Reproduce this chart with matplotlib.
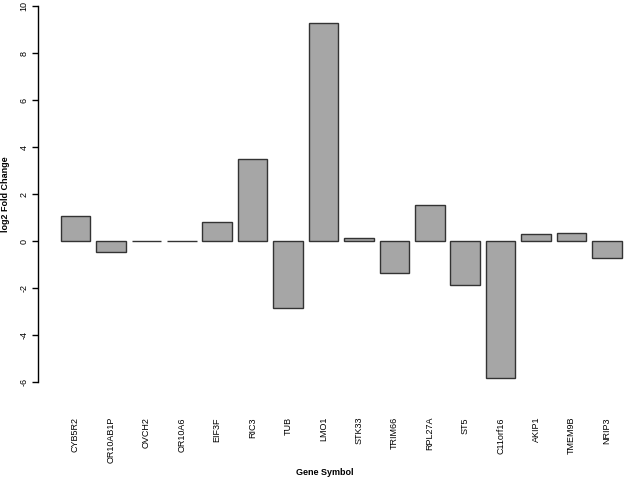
import matplotlib
matplotlib.use("Agg")
import matplotlib.pyplot as plt
import numpy as np

genes = ["CYB5R2", "OR10AB1P", "OVCH2", "OR10A6", "EIF3F", "RIC3", "TUB", "LMO1",
         "STK33", "TRIM66", "RPL27A", "ST5", "C11orf16", "AKIP1", "TMEM9B", "NRIP3"]
log2fc = [1.08, -0.45, 0.02, 0.02, 0.82, 3.51, -2.85, 9.26,
          0.13, -1.35, 1.52, -1.89, -5.81, 0.29, 0.36, -0.71]
yticks = [-6, -4, -2, 0, 2, 4, 6, 8, 10]

plt.rcParams['font.family'] = ['Liberation Sans', 'DejaVu Sans']

W, H = 624, 479
fig = plt.figure(figsize=(W / 100, H / 100), dpi=100)

# pixel geometry
x_per = 29.53
y_per = 23.5
left_px = 60.7 - 0.76 * x_per
y10_px = 6.0
ax_left = left_px / W
ax_width = 20.52 * x_per / W
ax_top = 1 - (y10_px - 0.64 * y_per) / H
ax_height = 17.28 * y_per / H
ax = fig.add_axes([ax_left, ax_top - ax_height, ax_width, ax_height])

centers = 0.7 + 1.2 * np.arange(len(genes))
ax.bar(centers, log2fc, width=1.0, color="#a6a6a6", edgecolor="#333333", linewidth=1.0)
ax.set_xlim(-0.56, 19.96)
ax.set_ylim(-6.64, 10.64)

for s in ["top", "right", "bottom"]:
    ax.spines[s].set_visible(False)
ax.spines["left"].set_bounds(-6, 10)
ax.spines["left"].set_linewidth(1.0)
ax.set_yticks(yticks)
ax.set_yticklabels([str(v) for v in yticks], rotation=90, va="center", fontsize=6.5)
ax.tick_params(axis="y", length=4, width=1.0, pad=3)
ax.set_xticks([])

# x labels
for c, g in zip(centers, genes):
    xd = ax.transData.transform((c, 0))[0]
    fig.text(xd / W, 1 - 417 / H, g, rotation=90, ha="center", va="top", fontsize=6.5)

fig.text(325 / W, 1 - 472.5 / H, "Gene Symbol", ha="center", va="center",
         fontsize=6.5, fontweight="bold")
fig.text(6 / W, 1 - 194 / H, "log2 Fold Change", rotation=90, ha="center", va="center",
         fontsize=6.5, fontweight="bold")

fig.savefig("out.png", dpi=100)
